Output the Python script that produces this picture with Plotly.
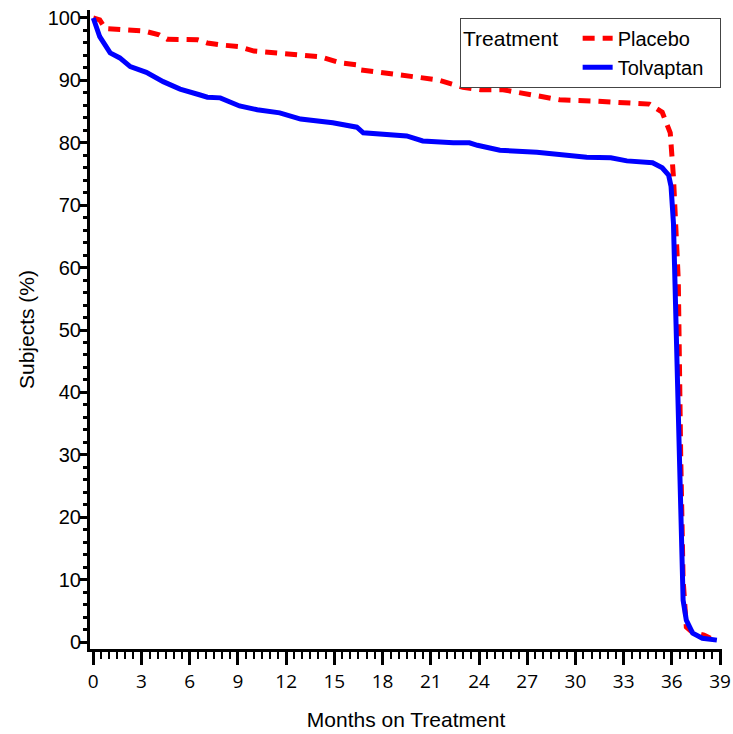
import plotly.graph_objects as go

# Placebo curve (months, % subjects)
placebo_months = [0, 0.4, 0.75, 3.2, 4.1, 4.6, 6.5, 7.1, 7.9, 9.1, 10.0, 10.4, 12.7, 14.1,
                  15.4, 16.4, 16.6, 17.8, 19.5, 21.4, 23.0, 24.1, 25.5, 26.6, 27.8, 29.0,
                  31.1, 32.4, 34.6, 35.4, 35.9, 36.1, 36.2, 36.4, 36.55, 36.7, 36.9, 37.3,
                  38.0, 38.4]
placebo_pct = [100, 99.7, 98.3, 97.9, 97.3, 96.6, 96.5, 96.0, 95.7, 95.4, 94.7, 94.6, 94.1,
               93.8, 92.8, 92.5, 91.7, 91.3, 90.9, 90.1, 88.9, 88.5, 88.5, 88.0, 87.5, 86.9,
               86.7, 86.5, 86.2, 84.9, 81.6, 74.5, 69.7, 58.0, 30.0, 10.0, 2.4, 1.5, 1.1, 0.6]

# Tolvaptan curve
tolvaptan_months = [0, 0.4, 1.05, 1.65, 2.3, 3.3, 4.35, 5.4, 6.6, 7.1, 7.9, 9.1, 10.2, 11.6,
                    12.9, 14.9, 16.4, 16.8, 19.5, 20.5, 22.4, 23.4, 23.9, 25.3, 27.6, 30.7,
                    32.2, 33.2, 34.8, 35.4, 35.8, 35.95, 36.1, 36.2, 36.5, 36.7, 36.9, 37.3,
                    37.9, 38.8]
tolvaptan_pct = [100, 97, 94.4, 93.6, 92.2, 91.3, 89.8, 88.6, 87.7, 87.3, 87.2, 85.9, 85.3,
                 84.8, 83.8, 83.2, 82.5, 81.6, 81.1, 80.3, 80.0, 80.0, 79.6, 78.8, 78.5, 77.7,
                 77.6, 77.1, 76.8, 76.0, 74.8, 73.0, 67.1, 57.0, 22.8, 6.7, 3.5, 1.4, 0.6, 0.3]

x_ticks = list(range(0, 40, 3))
y_ticks = list(range(0, 101, 10))

fig = go.Figure()
fig.add_trace(go.Scatter(x=placebo_months, y=placebo_pct, mode="lines", name="Placebo",
                         line=dict(color="#ff0000", width=5, dash="12px,8px")))
fig.add_trace(go.Scatter(x=tolvaptan_months, y=tolvaptan_pct, mode="lines",
                         name="Tolvaptan\u00a0\u00a0",
                         line=dict(color="#0000ff", width=5)))

fig.update_layout(
    width=733, height=734,
    margin=dict(l=90, r=11, t=10, b=85, autoexpand=False),
    paper_bgcolor="white", plot_bgcolor="white",
    font=dict(family="Liberation Sans, Arial", size=19, color="black"),
    showlegend=True,
    legend=dict(
        title=dict(text="Treatment\u00a0\u00a0", side="left", font=dict(size=21)),
        x=0.9985, xanchor="right", y=0.988, yanchor="top",
        bordercolor="#444", borderwidth=1, bgcolor="white",
        font=dict(size=20), tracegroupgap=0, itemwidth=30,
    ),
    xaxis=dict(
        range=[-0.205, 39.12], tickmode="array", tickvals=x_ticks,
        ticktext=[str(v) for v in x_ticks], automargin=False, ticklabeloverflow="allow",
        showgrid=False, zeroline=False, showline=True, linecolor="black", linewidth=3,
        ticks="outside", ticklen=13, tickwidth=3, tickcolor="black",
        tickfont=dict(family="Open Sans", size=19),
        minor=dict(dtick=0.5, tick0=0, ticks="outside", ticklen=7, tickwidth=2, tickcolor="black"),
        title=dict(text="Months on Treatment", standoff=20, font=dict(size=21)),
    ),
    yaxis=dict(
        range=[-1.12, 101.28], tickmode="array", tickvals=y_ticks, automargin=False,
        showgrid=False, zeroline=False, showline=True, linecolor="black", linewidth=3,
        ticks="outside", ticklen=7, tickwidth=3, tickcolor="black",
        tickfont=dict(size=20), ticklabelstandoff=-5,
        minor=dict(dtick=2, tick0=0, ticks="outside", ticklen=4, tickwidth=3, tickcolor="black"),
        title=dict(text="Subjects (%)", standoff=8, font=dict(size=21)),
    ),
)

fig.write_html("out.html")
